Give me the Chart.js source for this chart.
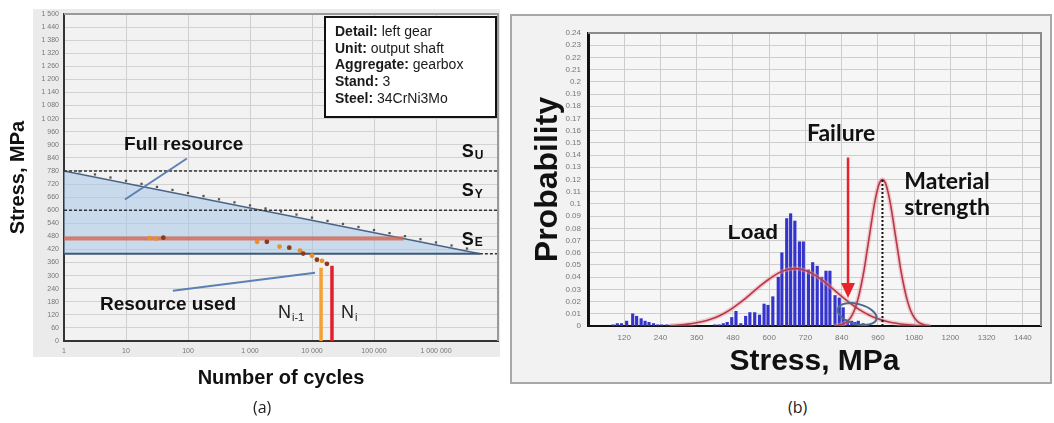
<!DOCTYPE html>
<html><head><meta charset="utf-8">
<script src="https://cdn.jsdelivr.net/npm/chart.js@4.4.1/dist/chart.umd.min.js"></script>
<style>
html,body{margin:0;padding:0;background:#fff;width:1054px;height:423px;overflow:hidden}
#bgA{position:absolute;left:33px;top:9px;width:467px;height:348px;background:#ebebeb}
#cA{position:absolute;left:0;top:0}
#boxB{position:absolute;left:510px;top:14px;width:538px;height:366px;border:2px solid #a8a8a8;background:#f2f2f2}
#cB{position:absolute;left:512px;top:16px}
.cap{position:absolute;top:396px;font:16px 'Open Sans',sans-serif;color:#222}
</style></head><body>
<div id="bgA"></div>
<canvas id="cA" width="505" height="400"></canvas>
<div id="boxB"></div>
<canvas id="cB" width="538" height="366"></canvas>
<div class="cap" style="left:253px">(a)</div>
<div class="cap" style="left:788px">(b)</div>
<script>
// ---------- Panel (a) data ----------
const cycleTicks = [1, 10, 100, 1000, 10000, 100000, 1000000];
const cycleRange = [1, 10000000];
const snCycles = [1, 5100000];
const snStress = [780, 400];
const ultimateStress = [780, 780];
const yieldStress = [600, 600];
const enduranceStress = [400, 400];
const enduranceTailCycles = [5100000, 10000000];
const markerCycles = [1.78, 3.16, 5.62, 10, 17.8, 31.6, 56.2, 100, 178, 316, 562, 1000, 1780, 3160, 5620, 10000, 17800, 31600, 56200, 100000, 178000, 316000, 562000, 1000000, 1780000, 3160000];
const markerStress = [778, 764, 750, 735, 721, 707, 693, 679, 665, 650, 636, 622, 608, 594, 580, 566, 551, 537, 523, 509, 495, 481, 467, 452, 438, 424];
const loadLevelCycles = [1, 300000];
const loadLevelStress = [470, 470];
const historyCycles = [24, 30, 40, 1300, 1870, 3000, 4300, 6400, 7200, 10000, 12000, 14500, 17400];
const historyStress = [472, 470, 474, 455, 455, 433, 428, 415, 401, 391, 373, 368, 354];
const prevFailCycles = [14000, 14000];
const prevFailStress = [0, 336];
const curFailCycles = [21000, 21000];
const curFailStress = [0, 345];
const infoKeys = ['Detail:', 'Unit:', 'Aggregate:', 'Stand:', 'Steel:'];
const infoValues = ['left gear', 'output shaft', 'gearbox', '3', '34CrNi3Mo'];

// ---------- Panel (b) data ----------
const stressTicks = [120, 240, 360, 480, 600, 720, 840, 960, 1080, 1200, 1320, 1440];
const loadStress = [83, 97, 111, 128, 148, 161, 176, 189, 202, 217, 231, 244, 261, 420, 434, 448, 461, 476, 490, 506, 522, 536, 552, 568, 583, 596, 612, 630, 642, 658, 671, 685, 700, 713, 730, 744, 759, 774, 788, 801, 818, 832, 845, 859, 873, 884, 895, 911];
const loadProb = [0.001, 0.002, 0.002, 0.004, 0.010, 0.008, 0.006, 0.004, 0.003, 0.002, 0.001, 0.001, 0.001, 0.001, 0.001, 0.002, 0.003, 0.007, 0.012, 0.002, 0.008, 0.011, 0.011, 0.009, 0.018, 0.017, 0.024, 0.040, 0.060, 0.088, 0.092, 0.086, 0.069, 0.069, 0.046, 0.052, 0.049, 0.040, 0.045, 0.045, 0.025, 0.023, 0.015, 0.005, 0.004, 0.003, 0.004, 0.002];
const loadFitStress = [270, 300, 330, 360, 390, 420, 450, 480, 510, 540, 570, 600, 630, 660, 690, 720, 750, 780, 810, 840, 870, 900, 930, 960, 990, 1020, 1050, 1080, 1110];
const loadFitProb = [0.0003, 0.0008, 0.0015, 0.0026, 0.0043, 0.0068, 0.0103, 0.0149, 0.0203, 0.0265, 0.0328, 0.0385, 0.0433, 0.0462, 0.0470, 0.0454, 0.0419, 0.0367, 0.0306, 0.0243, 0.0184, 0.0132, 0.0090, 0.0059, 0.0037, 0.0022, 0.0012, 0.0006, 0.0002];
const strengthStress = [815, 835, 855, 865, 875, 885, 895, 905, 915, 925, 935, 945, 955, 965, 975, 985, 995, 1005, 1015, 1025, 1035, 1045, 1055, 1065, 1075, 1085, 1095, 1115, 1135];
const strengthProb = [0.0001, 0.0008, 0.0029, 0.0053, 0.0091, 0.0148, 0.023, 0.034, 0.047, 0.063, 0.079, 0.095, 0.108, 0.117, 0.120, 0.117, 0.108, 0.095, 0.079, 0.063, 0.047, 0.034, 0.023, 0.0148, 0.0091, 0.0053, 0.0029, 0.0008, 0.0001];
const meanStrength = [975, 975];
const meanStrengthProb = [0, 0.12];

const FAM = "'Liberation Sans', Arial, Helvetica, sans-serif";
Chart.defaults.font.family = FAM;
const xy = (xs, ys) => xs.map((x, i) => ({x: x, y: ys[i]}));
const fmt = v => String(Math.round(v)).replace(/\B(?=(\d{3})+(?!\d))/g, ' ');

const frame = {
  id: 'frame',
  beforeDraw(chart, args, o) {
    const {ctx, chartArea: a} = chart;
    ctx.save(); ctx.fillStyle = o.bg; ctx.fillRect(a.left, a.top, a.width, a.height); ctx.restore();
  },
  afterDraw(chart, args, o) {
    const {ctx, chartArea: a} = chart;
    ctx.save(); ctx.strokeStyle = o.edge; ctx.lineWidth = o.edgeWidth;
    ctx.beginPath(); ctx.moveTo(a.left, a.top); ctx.lineTo(a.right, a.top); ctx.lineTo(a.right, a.bottom); ctx.stroke();
    ctx.restore();
  }
};

function subText(ctx, main, sub, x, y, f1, f2, dy, color) {
  ctx.fillStyle = color; ctx.textAlign = 'left'; ctx.textBaseline = 'middle';
  ctx.font = f1; ctx.fillText(main, x, y);
  const w = ctx.measureText(main).width;
  ctx.font = f2; ctx.fillText(sub, x + w + 1, y + dy);
}

const annA = {
  id: 'annA',
  afterDatasetsDraw(chart) {
    const {ctx, scales: {x, y}, chartArea: a} = chart;
    const px = v => x.getPixelForValue(v), py = v => y.getPixelForValue(v);
    ctx.save();
    ctx.strokeStyle = '#5b80b2'; ctx.lineWidth = 2;
    [[9.6, 649, 96, 837], [57, 230, 11200, 313]].forEach(p => {
      ctx.beginPath(); ctx.moveTo(px(p[0]), py(p[1])); ctx.lineTo(px(p[2]), py(p[3])); ctx.stroke();
    });
    ctx.fillStyle = '#111'; ctx.textAlign = 'left'; ctx.textBaseline = 'middle';
    ctx.font = 'bold 19px ' + FAM;
    ctx.fillText('Full resource', px(9.3), py(902));
    ctx.fillText('Resource used', px(3.8), py(166));
    subText(ctx, 'S', 'U', px(2.6e6), py(865), 'bold 18px ' + FAM, 'bold 12px ' + FAM, 3, '#111');
    subText(ctx, 'S', 'Y', px(2.6e6), py(686), 'bold 18px ' + FAM, 'bold 12px ' + FAM, 3, '#111');
    subText(ctx, 'S', 'E', px(2.6e6), py(465), 'bold 18px ' + FAM, 'bold 12px ' + FAM, 3, '#111');
    subText(ctx, 'N', 'i-1', px(2830), py(129), '18px ' + FAM, '11px ' + FAM, 5, '#222');
    subText(ctx, 'N', 'i', px(29300), py(129), '18px ' + FAM, '11px ' + FAM, 5, '#222');
    const bx = a.right - 173, by = a.top + 3, bw = 171, bh = 100;
    ctx.fillStyle = '#fff'; ctx.fillRect(bx, by, bw, bh);
    ctx.strokeStyle = '#111'; ctx.lineWidth = 2; ctx.strokeRect(bx, by, bw, bh);
    infoKeys.forEach((k, i) => {
      const ty = by + 15 + i * 16.8;
      ctx.fillStyle = '#1a1a1a';
      ctx.font = 'bold 14px ' + FAM; ctx.fillText(k, bx + 10, ty);
      const w = ctx.measureText(k).width;
      ctx.font = '14px ' + FAM; ctx.fillText(' ' + infoValues[i], bx + 10 + w, ty);
    });
    ctx.restore();
  }
};

const lineDs = (data, color, width, extra) => Object.assign({data: data, borderColor: color, borderWidth: width, pointRadius: 0, fill: false, tension: 0}, extra || {});

new Chart(document.getElementById('cA'), {
  type: 'line',
  data: {datasets: [
    lineDs(xy(historyCycles, historyStress), 'transparent', 0, {showLine: false, pointRadius: 2.4, pointBorderWidth: 0,
      pointBackgroundColor: ['#e8902a', '#e8902a', '#8b3a1a', '#e8902a', '#8b3a1a', '#e8902a', '#8b3a1a', '#e8902a', '#8b3a1a', '#e8902a', '#8b3a1a', '#e8902a', '#8b3a1a'], order: 0}),
    lineDs(xy(markerCycles, markerStress), 'transparent', 0, {showLine: false, pointRadius: 1.6, pointStyle: 'rect', pointBackgroundColor: '#555', pointBorderWidth: 0, order: 1}),
    lineDs(xy(prevFailCycles, prevFailStress), '#f3a133', 3.5, {order: 2}),
    lineDs(xy(curFailCycles, curFailStress), '#e21f2d', 3.5, {order: 2}),
    lineDs(xy(loadLevelCycles, loadLevelStress), 'rgba(214,100,76,0.8)', 4, {order: 3}),
    lineDs(xy(cycleRange, ultimateStress), '#333', 1.5, {borderDash: [3, 2], order: 4}),
    lineDs(xy(cycleRange, yieldStress), '#333', 1.5, {borderDash: [3, 2], order: 4}),
    lineDs(xy(snCycles, enduranceStress), '#3e5877', 2, {order: 4}),
    lineDs(xy(enduranceTailCycles, enduranceStress), '#333', 1.5, {borderDash: [3, 2], order: 4}),
    lineDs(xy(snCycles, snStress), '#4a6283', 1.5, {fill: {value: 400}, backgroundColor: 'rgba(168,198,234,0.55)', order: 10})
  ]},
  options: {
    responsive: false, animation: false, devicePixelRatio: 1,
    layout: {padding: {left: 0, top: 14, right: 7, bottom: 0}},
    plugins: {legend: {display: false}, tooltip: {enabled: false}, frame: {bg: '#f2f2f2', edge: '#9a9a9a', edgeWidth: 2}},
    scales: {
      x: {type: 'logarithmic', min: cycleRange[0], max: cycleRange[1],
        afterFit: s => { s.height = 59; },
        afterBuildTicks: s => { s.ticks = cycleTicks.map(v => ({value: v})); },
        ticks: {font: {size: 7}, color: '#777', padding: 6, maxRotation: 0, autoSkip: false, callback: v => fmt(v)},
        grid: {color: '#cfcfcf', lineWidth: 1, drawTicks: false},
        border: {color: '#333', width: 2},
        title: {display: true, text: 'Number of cycles', color: '#111', font: {size: 20, weight: 'bold'}, padding: {top: 0, bottom: 10}}},
      y: {min: 0, max: 1500,
        afterFit: s => { s.width = 64; },
        ticks: {stepSize: 60, font: {size: 7}, color: '#777', padding: 5, autoSkip: false, callback: v => fmt(v)},
        grid: {color: '#d2d2d2', lineWidth: 1, drawTicks: false},
        border: {color: '#333', width: 2},
        title: {display: true, text: 'Stress, MPa', color: '#111', font: {size: 20, weight: 'bold'}, padding: {top: 6, bottom: 0}}}
    }
  },
  plugins: [frame, annA]
});

const annB = {
  id: 'annB',
  afterDatasetsDraw(chart) {
    const {ctx, scales: {x, y}} = chart;
    const px = v => x.getPixelForValue(v), py = v => y.getPixelForValue(v);
    ctx.save();
    ctx.strokeStyle = '#4d6b8c'; ctx.lineWidth = 2;
    ctx.beginPath(); ctx.ellipse(px(891), py(0.0098), 20, 10, 15 * Math.PI / 180, 0, 2 * Math.PI); ctx.stroke();
    const ax = px(861), y0 = py(0.138), y1 = py(0.023);
    ctx.strokeStyle = '#e8232b'; ctx.fillStyle = '#e8232b'; ctx.lineWidth = 2.5;
    ctx.beginPath(); ctx.moveTo(ax, y0); ctx.lineTo(ax, y1 - 12); ctx.stroke();
    ctx.beginPath(); ctx.moveTo(ax - 7, y1 - 15); ctx.lineTo(ax + 7, y1 - 15); ctx.lineTo(ax, y1); ctx.closePath(); ctx.fill();
    ctx.fillStyle = '#111'; ctx.textAlign = 'center'; ctx.textBaseline = 'middle';
    ctx.font = 'bold 21px ' + FAM; ctx.fillText('Load', px(546), py(0.0762));
    ctx.font = 'bold 23px Lato, "Open Sans", sans-serif';
    ctx.fillText('Failure', px(838), py(0.158));
    ctx.fillText('Material', px(1189), py(0.118));
    ctx.fillText('strength', px(1189), py(0.0966));
    ctx.restore();
  }
};

new Chart(document.getElementById('cB'), {
  type: 'bar',
  data: {datasets: [
    {type: 'line', data: xy(meanStrength, meanStrengthProb), borderColor: '#111', borderWidth: 2, borderDash: [2, 2], pointRadius: 0, order: 0},
    {type: 'line', data: xy(strengthStress, strengthProb), borderColor: '#b23a4a', borderWidth: 1.6, pointRadius: 0, cubicInterpolationMode: 'monotone', order: 1},
    {type: 'line', data: xy(strengthStress, strengthProb), borderColor: 'rgba(240,150,160,0.45)', borderWidth: 4.5, pointRadius: 0, cubicInterpolationMode: 'monotone', order: 2},
    {type: 'line', data: xy(loadFitStress, loadFitProb), borderColor: '#b23a4a', borderWidth: 1.6, pointRadius: 0, cubicInterpolationMode: 'monotone', order: 1},
    {type: 'line', data: xy(loadFitStress, loadFitProb), borderColor: 'rgba(240,150,160,0.45)', borderWidth: 4.5, pointRadius: 0, cubicInterpolationMode: 'monotone', order: 2},
    {type: 'bar', data: xy(loadStress, loadProb), backgroundColor: '#3434cc', borderWidth: 0, barThickness: 2.5, grouped: false, order: 5}
  ]},
  options: {
    responsive: false, animation: false, devicePixelRatio: 1,
    layout: {padding: {left: 0, top: 17, right: 9, bottom: 0}},
    plugins: {legend: {display: false}, tooltip: {enabled: false}, frame: {bg: '#f6f6f6', edge: '#8a8a8a', edgeWidth: 2}},
    scales: {
      x: {type: 'linear', min: 0, max: 1500, offset: false,
        afterFit: s => { s.height = 56; },
        afterBuildTicks: s => { s.ticks = stressTicks.map(v => ({value: v})); },
        ticks: {font: {size: 8}, color: '#777', padding: 7, maxRotation: 0, autoSkip: false, callback: v => String(v)},
        grid: {color: '#cdcdcd', lineWidth: 1, drawTicks: false, offset: false},
        border: {color: '#111', width: 2},
        title: {display: true, text: 'Stress, MPa', color: '#111', font: {size: 30, weight: 'bold'}, padding: {top: 0, bottom: 2}}},
      y: {min: 0, max: 0.24,
        afterFit: s => { s.width = 76; },
        ticks: {stepSize: 0.01, font: {size: 8}, color: '#777', padding: 7, autoSkip: false, callback: v => String(Math.round(v * 100) / 100)},
        grid: {color: '#cdcdcd', lineWidth: 1, drawTicks: false},
        border: {color: '#111', width: 3},
        title: {display: true, text: 'Probability', color: '#111', font: {size: 32, weight: 'bold'}, padding: {top: 17, bottom: 0}}}
    }
  },
  plugins: [frame, annB]
});
</script>
</body></html>
